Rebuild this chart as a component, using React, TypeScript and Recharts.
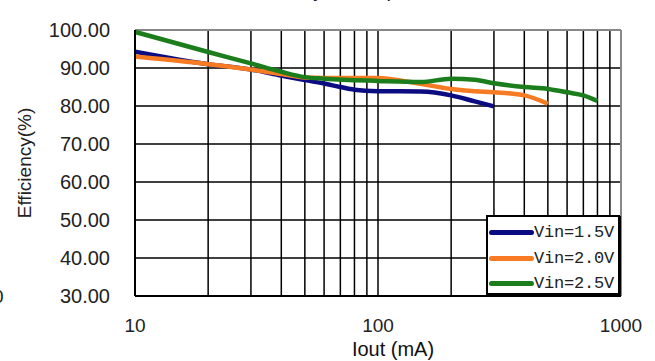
import {
  LineChart,
  Line,
  XAxis,
  YAxis,
  CartesianGrid,
  ReferenceLine,
} from "recharts";

const iout15 = [10, 20, 30, 40, 50, 60, 70, 80, 100, 150, 200, 250, 300];
const eff15 = [94.3, 91, 89.6, 88, 86.8, 85.9, 85, 84.3, 83.9, 83.8, 82.8, 81.2, 79.9];

const iout20 = [10, 20, 30, 40, 50, 60, 100, 135, 200, 250, 300, 400, 500];
const eff20 = [93, 91, 89.6, 88.4, 87.5, 87.4, 87.4, 86.3, 84.5, 83.9, 83.6, 82.8, 80.6];

const iout25 = [10, 20, 30, 40, 50, 60, 100, 150, 200, 250, 300, 400, 500, 600, 700, 800];
const eff25 = [99.5, 94.2, 91.2, 89, 87.6, 87.2, 86.6, 86.3, 87.2, 86.9, 86, 85, 84.5, 83.6, 82.8, 81.3];

const xTicks = [10, 100, 1000];
const xMinor = [20, 30, 40, 50, 60, 70, 80, 90, 100, 200, 300, 400, 500, 600, 700, 800, 900];
const yTicks = [30, 40, 50, 60, 70, 80, 90, 100];

const series = [
  { name: "Vin=1.5V", color: "#0c0c82", x: iout15, y: eff15 },
  { name: "Vin=2.0V", color: "#f77b22", x: iout20, y: eff20 },
  { name: "Vin=2.5V", color: "#1c7d1c", x: iout25, y: eff25 },
];

const font = "Liberation Sans, Arial, sans-serif";

function LegendBox() {
  return (
    <div
      style={{
        position: "absolute",
        left: 486,
        top: 215,
        background: "#fff",
        border: "2px solid #000",
        boxShadow: "1px 1px 0 #000",
        width: 134,
        height: 80,
        boxSizing: "border-box",
        padding: "3px 0 0 0",
      }}
    >
      {series.map((s) => (
        <div key={s.name} style={{ display: "flex", alignItems: "center", height: 25.5 }}>
          <div
            style={{
              width: 45,
              height: 5,
              borderRadius: 3,
              background: s.color,
              marginLeft: 1,
            }}
          />
          <span
            style={{
              fontFamily: "Liberation Mono, DejaVu Sans Mono, monospace",
              fontSize: 17,
              color: "#222",
              letterSpacing: -0.2,
            }}
          >
            {s.name}
          </span>
        </div>
      ))}
    </div>
  );
}

export default function App() {
  return (
    <div style={{ position: "absolute", left: 0, top: 0, width: 655, height: 361, background: "#fff", overflow: "hidden" }}>
      <div
        style={{
          position: "absolute",
          left: 238,
          top: -21,
          fontFamily: font,
          fontSize: 20,
          color: "#111",
          whiteSpace: "nowrap",
        }}
      >
        Efficiency vs Output Current
      </div>
      <div style={{ position: "absolute", left: -7, top: 286, fontFamily: font, fontSize: 19, color: "#222" }}>0</div>
      <LineChart width={655} height={361} margin={{ top: 30, right: 34, bottom: 0, left: 0 }}>
        <CartesianGrid vertical={false} stroke="#000" strokeWidth={1.5} strokeOpacity={1} />
        {xMinor.map((v) => (
          <ReferenceLine key={v} x={v} stroke="#000" strokeWidth={1.5} ifOverflow="hidden" />
        ))}
        <ReferenceLine y={100} stroke="#888" strokeWidth={2} />
        <ReferenceLine x={1000} stroke="#888" strokeWidth={2} />
        <XAxis
          dataKey="x"
          type="number"
          scale="log"
          domain={[10, 1000]}
          ticks={xTicks}
          allowDataOverflow
          height={65}
          tickSize={0}
          tickMargin={23}
          axisLine={{ stroke: "#000", strokeWidth: 2 }}
          tick={{ fill: "#222", fontSize: 19, fontFamily: font }}
          label={{
            value: "Iout (mA)",
            position: "insideBottom",
            offset: 5,
            dx: 15,
            style: { fill: "#111", fontSize: 20, fontFamily: font },
          }}
        />
        <YAxis
          type="number"
          domain={[30, 100]}
          ticks={yTicks}
          width={135}
          tickSize={0}
          tickMargin={25}
          axisLine={{ stroke: "#000", strokeWidth: 2 }}
          tickFormatter={(v) => Number(v).toFixed(2)}
          tick={{ fill: "#222", fontSize: 20, fontFamily: font }}
          label={{
            value: "Efficiency(%)",
            angle: -90,
            position: "insideLeft",
            offset: 24,
            style: { fill: "#222", fontSize: 19, fontFamily: font, textAnchor: "middle" },
          }}
        />
        {series.map((s) => (
          <Line
            key={s.name}
            data={s.x.map((x, i) => ({ x, y: s.y[i] }))}
            dataKey="y"
            name={s.name}
            type="monotone"
            stroke={s.color}
            strokeWidth={4.5}
            dot={false}
            isAnimationActive={false}
          />
        ))}
      </LineChart>
      <LegendBox />
    </div>
  );
}
